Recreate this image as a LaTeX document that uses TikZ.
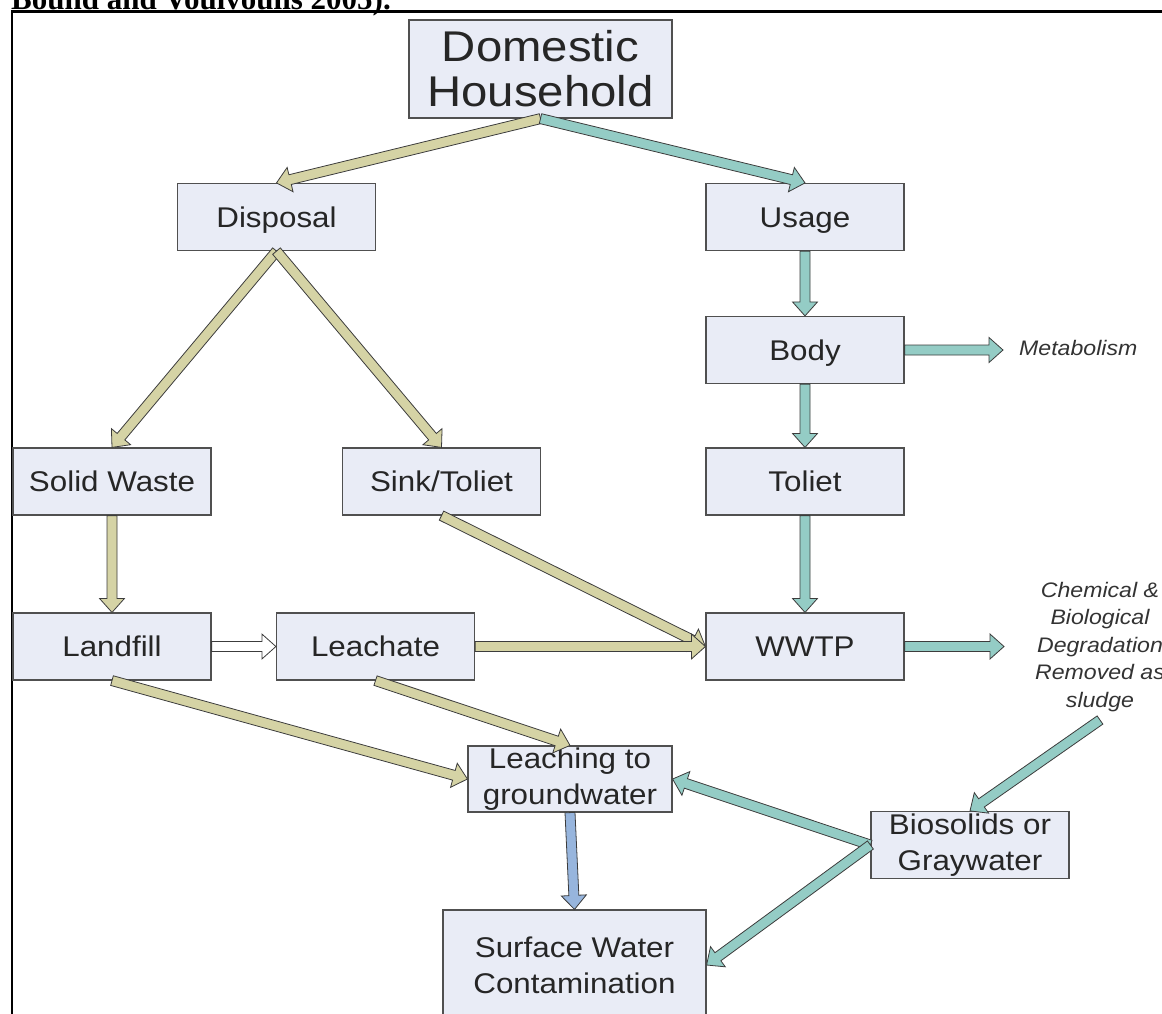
\documentclass[tikz,border=0pt]{standalone}
\usepackage{fontspec}
\setmainfont{Liberation Sans}[FakeStretch=1.1]
\newfontfamily\citefont{Liberation Serif}
\usetikzlibrary{calc}

\definecolor{boxfill}{RGB}{233,236,246}
\definecolor{boxline}{RGB}{80,80,80}
\definecolor{wasteol}{RGB}{213,211,165}
\definecolor{waterteal}{RGB}{148,204,197}
\definecolor{seepblue}{RGB}{151,181,221}
\definecolor{arrowline}{RGB}{60,60,60}

% block arrow: fill colour, from, to
\newcommand\blockarrow[3]{%
  \coordinate (ba-s) at (#2);
  \coordinate (ba-e) at (#3);
  \coordinate (ba-m) at ($(ba-e)!14pt!(ba-s)$);
  \draw[fatline, fill=#1] ($(ba-s)!5pt!90:(ba-e)$) -- ($(ba-m)!5pt!90:(ba-e)$)
    -- ($(ba-m)!12.5pt!90:(ba-e)$) -- (ba-e) -- ($(ba-m)!12.5pt!-90:(ba-e)$)
    -- ($(ba-m)!5pt!-90:(ba-e)$) -- ($(ba-s)!5pt!-90:(ba-e)$) -- cycle;}

\begin{document}
\begin{tikzpicture}[
  x=1pt, y=-1pt,
  stagebox/.style={rectangle, draw=boxline, fill=boxfill, line width=1.2pt,
    minimum width=198pt, minimum height=67pt, inner sep=0pt, text=black!85,
    font=\fontsize{28.5}{36}\selectfont},
  oneline/.style={stagebox, text height=20.4pt, text depth=0pt},
  twoline/.style={stagebox, align=center},
  note/.style={inner sep=0pt, text=black!80, font=\itshape\fontsize{21}{27.5}\selectfont},
  fatline/.style={draw=arrowline, line width=0.8pt, line join=miter}
]
\useasboundingbox (0,0) rectangle (1162,1013);
\clip (0,0) rectangle (1162,1013);

% cut-off caption and frame
\node[anchor=base west, inner sep=0pt, font=\citefont\bfseries\fontsize{31}{34}\selectfont] (cite) at (11,9.5) {Bound and Voulvoulis 2005).};
\draw[line width=2.5pt] (12,1030) -- (12,11.3) -- (1175,11.3);

% boxes
\node[twoline, minimum width=263pt, minimum height=98pt, font=\fontsize{43}{45}\selectfont] (dom) at (540.5,69) {Domestic\\Household};
\node[oneline] (disp)     at (276.5,217) {Disposal};
\node[oneline] (usage)    at (805,217)   {Usage};
\node[oneline] (body)     at (805,350)   {Body};
\node[oneline] (solid)    at (112,481.5) {Solid Waste};
\node[oneline] (sink)     at (441.5,481.5) {Sink/Toliet};
\node[oneline] (toil)     at (805,481.5) {Toliet};
\node[oneline] (landfill) at (112,646.5) {Landfill};
\node[oneline] (leachate) at (375.5,646.5) {Leachate};
\node[oneline] (wwtp)     at (805,646.5) {WWTP};
\node[twoline, minimum width=204pt, minimum height=66pt] (leaching) at (570,779) {Leaching to\\groundwater};
\node[twoline] (bio) at (970,845) {Biosolids or\\Graywater};
\node[twoline, minimum width=263pt, minimum height=110pt] (surf) at (574.5,965) {Surface Water\\Contamination};

% side notes
\node[note, anchor=west] (meta) at (1019,348) {Metabolism};
\node[note, align=center] (chem) at (1100,647) {Chemical \&\\Biological\\Degradation\\Removed as\\sludge};
\coordinate (metaIn)    at (1003,350);
\coordinate (chemIn)    at (1004,646.5);
\coordinate (sludgeOut) at (1100,720);

% disposal side
\blockarrow{wasteol}{dom.south}{disp.north}
\blockarrow{wasteol}{disp.south}{solid.north}
\blockarrow{wasteol}{disp.south}{sink.north}
\blockarrow{wasteol}{solid.south}{landfill.north}
\blockarrow{white}{landfill.east}{leachate.west}
\blockarrow{wasteol}{sink.south}{wwtp.west}
\blockarrow{wasteol}{leachate.east}{wwtp.west}
\blockarrow{wasteol}{landfill.south}{leaching.west}
\blockarrow{wasteol}{leachate.south}{leaching.north}

% usage side
\blockarrow{waterteal}{dom.south}{usage.north}
\blockarrow{waterteal}{usage.south}{body.north}
\blockarrow{waterteal}{body.east}{metaIn}
\blockarrow{waterteal}{body.south}{toil.north}
\blockarrow{waterteal}{toil.south}{wwtp.north}
\blockarrow{waterteal}{wwtp.east}{chemIn}
\blockarrow{waterteal}{sludgeOut}{bio.north}
\blockarrow{waterteal}{bio.west}{leaching.east}
\blockarrow{waterteal}{bio.west}{surf.east}
\blockarrow{seepblue}{leaching.south}{surf.north}
\end{tikzpicture}
\end{document}
